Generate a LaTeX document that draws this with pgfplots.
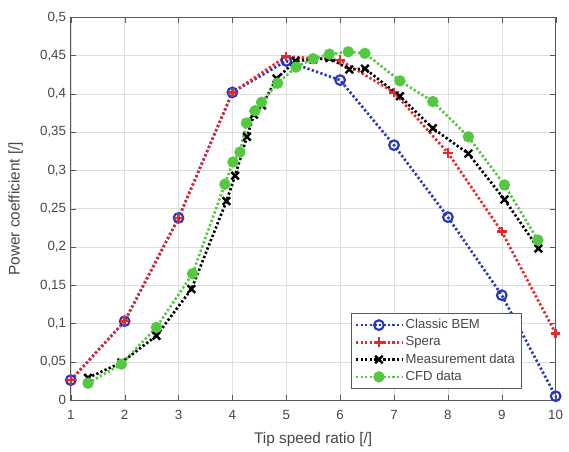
\documentclass[border=0pt]{standalone}
\usepackage{fontspec}
\setmainfont{Liberation Sans}
\usepackage{pgfplots}
\pgfplotsset{compat=1.18}

\definecolor{bemblue}{RGB}{40,55,185}
\definecolor{sperared}{RGB}{232,40,40}
\definecolor{cfdgreen}{RGB}{85,200,65}
\definecolor{txtgray}{RGB}{70,70,70}

\begin{document}
\begin{tikzpicture}
\begin{axis}[
    name=ax,
    width=363pt, height=286.5pt,
    scale only axis,
    xmin=1, xmax=10,
    ymin=0, ymax=0.5,
    xtick={1,2,...,10},
    ytick={0,0.05,...,0.5},
    grid=major,
    major grid style={gray!25, line width=0.4pt},
    axis line style={gray!70!black, line width=0.6pt},
    tick style={gray!70!black},
    tick align=inside,
    major tick length=4pt,
    /pgf/number format/assume math mode=true,
    /pgf/number format/use comma,
    /pgf/number format/fixed,
    /pgf/number format/precision=2,
    tick label style={font=\fontsize{10}{12}\selectfont, text=txtgray},
    xticklabel style={yshift=-4pt},
    label style={font=\fontsize{11.5}{13}\selectfont, text=txtgray},
    xlabel={Tip speed ratio [/]},
    ylabel={Power coefficient [/]},
    xlabel style={yshift=-3pt},
    ylabel style={yshift=6pt},
    legend style={at={(0.929,0.029)}, anchor=south east,
        font=\fontsize{9.8}{11}\selectfont, text=txtgray,
        draw=gray!70!black, line width=0.5pt, row sep=0.4pt,
        inner sep=2.5pt},
    legend cell align=left,
    legend image code/.code={%
        \draw[mark repeat=2,mark phase=2] plot coordinates {(0cm,0cm) (0.6cm,0cm) (1.2cm,0cm)};},
    every axis plot/.append style={line width=2pt, dash pattern=on 1.7pt off 1.7pt},
]
\addplot[bemblue, mark=o, mark size=3.6pt, mark options={solid, line width=1.6pt}] coordinates {
    (1,0.026) (2,0.103) (3,0.238) (4,0.402) (5,0.443) (6,0.418)
    (7,0.333) (8,0.239) (9,0.137) (10,0.005)
};
\addlegendentry{Classic BEM}

\addplot[sperared, mark=+, mark size=3.6pt, mark options={solid, line width=1.8pt}] coordinates {
    (1,0.026) (2,0.103) (3,0.238) (4,0.402) (5,0.449) (6,0.444)
    (7,0.402) (8,0.323) (9,0.220) (10,0.087)
};
\addlegendentry{Spera}

\addplot[black, mark=x, mark size=4pt, mark options={solid, line width=1.8pt}] coordinates {
    (1.32,0.029) (1.94,0.049) (2.59,0.084) (3.24,0.145) (3.89,0.260)
    (4.05,0.293) (4.27,0.344) (4.40,0.373) (4.55,0.385) (4.82,0.420)
    (5.17,0.443) (5.50,0.445) (5.80,0.447) (6.17,0.432) (6.46,0.433)
    (7.11,0.397) (7.72,0.355) (8.38,0.322) (9.05,0.262) (9.68,0.198)
};
\addlegendentry{Measurement data}

\addplot[cfdgreen, mark=*, mark size=3.2pt, mark options={solid, draw=cfdgreen, fill=cfdgreen}] coordinates {
    (1.32,0.022) (1.94,0.047) (2.59,0.095) (3.26,0.165) (3.86,0.282)
    (4.01,0.311) (4.14,0.324) (4.26,0.362) (4.42,0.378) (4.54,0.389)
    (4.84,0.414) (5.18,0.435) (5.50,0.446) (5.80,0.452) (6.15,0.455)
    (6.46,0.453) (7.11,0.417) (7.72,0.390) (8.38,0.344) (9.05,0.281)
    (9.67,0.209)
};
\addlegendentry{CFD data}
\end{axis}
\path (ax.south west) ++(-53pt,-36pt);
\path (ax.north east) ++(10pt,13pt);
\end{tikzpicture}
\end{document}
